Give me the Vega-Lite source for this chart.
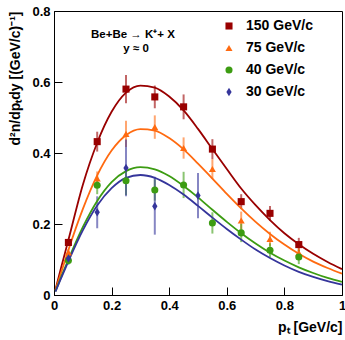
{
  "$schema": "https://vega.github.io/schema/vega-lite/v6.json",
  "width": 288,
  "height": 284,
  "autosize": {"type": "none"},
  "padding": {"left": 54, "top": 11, "right": 3, "bottom": 45},
  "background": "white",
  "config": {
    "view": {"stroke": "#000", "strokeWidth": 1},
    "font": "Liberation Sans",
    "axis": {"grid": false, "domainColor": "#000", "domainWidth": 1, "tickColor": "#000", "tickWidth": 1, "labelFont": "Liberation Sans", "labelFontWeight": "bold", "labelFontSize": 13, "labelColor": "#000", "titleFont": "Liberation Sans", "titleFontWeight": "bold", "titleFontSize": 14, "titleColor": "#000"},
    "legend": {"orient": "none", "legendX": 168, "legendY": 8, "padding": 0, "rowPadding": 8, "labelOffset": 10, "labelFont": "Liberation Sans", "labelFontSize": 14, "labelFontWeight": "bold", "labelColor": "#000", "symbolSize": 50, "symbolStrokeWidth": 0, "symbolOpacity": 1}
  },
  "datasets": {
    "pts": [
      {"E": "150 GeV/c", "x": 0.05, "y": 0.148, "lo": 0.138, "hi": 0.158},
      {"E": "150 GeV/c", "x": 0.15, "y": 0.432, "lo": 0.404, "hi": 0.460},
      {"E": "150 GeV/c", "x": 0.25, "y": 0.580, "lo": 0.540, "hi": 0.620},
      {"E": "150 GeV/c", "x": 0.35, "y": 0.558, "lo": 0.526, "hi": 0.590},
      {"E": "150 GeV/c", "x": 0.45, "y": 0.530, "lo": 0.495, "hi": 0.565},
      {"E": "150 GeV/c", "x": 0.55, "y": 0.411, "lo": 0.383, "hi": 0.439},
      {"E": "150 GeV/c", "x": 0.65, "y": 0.263, "lo": 0.242, "hi": 0.284},
      {"E": "150 GeV/c", "x": 0.75, "y": 0.230, "lo": 0.209, "hi": 0.251},
      {"E": "150 GeV/c", "x": 0.85, "y": 0.142, "lo": 0.123, "hi": 0.161},
      {"E": "75 GeV/c", "x": 0.05, "y": 0.120, "lo": 0.110, "hi": 0.130},
      {"E": "75 GeV/c", "x": 0.15, "y": 0.328, "lo": 0.308, "hi": 0.348},
      {"E": "75 GeV/c", "x": 0.25, "y": 0.454, "lo": 0.417, "hi": 0.491},
      {"E": "75 GeV/c", "x": 0.35, "y": 0.473, "lo": 0.440, "hi": 0.506},
      {"E": "75 GeV/c", "x": 0.45, "y": 0.414, "lo": 0.384, "hi": 0.444},
      {"E": "75 GeV/c", "x": 0.55, "y": 0.355, "lo": 0.327, "hi": 0.383},
      {"E": "75 GeV/c", "x": 0.65, "y": 0.210, "lo": 0.185, "hi": 0.235},
      {"E": "75 GeV/c", "x": 0.75, "y": 0.158, "lo": 0.138, "hi": 0.178},
      {"E": "75 GeV/c", "x": 0.85, "y": 0.119, "lo": 0.101, "hi": 0.137},
      {"E": "40 GeV/c", "x": 0.05, "y": 0.097, "lo": 0.085, "hi": 0.109},
      {"E": "40 GeV/c", "x": 0.15, "y": 0.309, "lo": 0.284, "hi": 0.334},
      {"E": "40 GeV/c", "x": 0.25, "y": 0.322, "lo": 0.282, "hi": 0.362},
      {"E": "40 GeV/c", "x": 0.35, "y": 0.296, "lo": 0.266, "hi": 0.326},
      {"E": "40 GeV/c", "x": 0.45, "y": 0.310, "lo": 0.273, "hi": 0.347},
      {"E": "40 GeV/c", "x": 0.55, "y": 0.203, "lo": 0.173, "hi": 0.233},
      {"E": "40 GeV/c", "x": 0.65, "y": 0.175, "lo": 0.149, "hi": 0.201},
      {"E": "40 GeV/c", "x": 0.75, "y": 0.126, "lo": 0.106, "hi": 0.146},
      {"E": "40 GeV/c", "x": 0.85, "y": 0.107, "lo": 0.087, "hi": 0.127},
      {"E": "30 GeV/c", "x": 0.05, "y": 0.103, "lo": 0.088, "hi": 0.118},
      {"E": "30 GeV/c", "x": 0.15, "y": 0.233, "lo": 0.188, "hi": 0.278},
      {"E": "30 GeV/c", "x": 0.25, "y": 0.358, "lo": 0.278, "hi": 0.438},
      {"E": "30 GeV/c", "x": 0.35, "y": 0.250, "lo": 0.170, "hi": 0.333},
      {"E": "30 GeV/c", "x": 0.50, "y": 0.280, "lo": 0.216, "hi": 0.344}
    ],
    "fit": [
      {"E": "150 GeV/c", "x": 0.005, "y": 0.015}, {"E": "150 GeV/c", "x": 0.025, "y": 0.078}, {"E": "150 GeV/c", "x": 0.05, "y": 0.155}, {"E": "150 GeV/c", "x": 0.1, "y": 0.31}, {"E": "150 GeV/c", "x": 0.15, "y": 0.429}, {"E": "150 GeV/c", "x": 0.2, "y": 0.516}, {"E": "150 GeV/c", "x": 0.25, "y": 0.570}, {"E": "150 GeV/c", "x": 0.3, "y": 0.590}, {"E": "150 GeV/c", "x": 0.35, "y": 0.584}, {"E": "150 GeV/c", "x": 0.4, "y": 0.559}, {"E": "150 GeV/c", "x": 0.45, "y": 0.520}, {"E": "150 GeV/c", "x": 0.5, "y": 0.468}, {"E": "150 GeV/c", "x": 0.55, "y": 0.411}, {"E": "150 GeV/c", "x": 0.6, "y": 0.355}, {"E": "150 GeV/c", "x": 0.65, "y": 0.300}, {"E": "150 GeV/c", "x": 0.7, "y": 0.253}, {"E": "150 GeV/c", "x": 0.75, "y": 0.211}, {"E": "150 GeV/c", "x": 0.8, "y": 0.174}, {"E": "150 GeV/c", "x": 0.85, "y": 0.143}, {"E": "150 GeV/c", "x": 0.9, "y": 0.116}, {"E": "150 GeV/c", "x": 0.95, "y": 0.093}, {"E": "150 GeV/c", "x": 1.0, "y": 0.073},
      {"E": "75 GeV/c", "x": 0.005, "y": 0.013}, {"E": "75 GeV/c", "x": 0.025, "y": 0.064}, {"E": "75 GeV/c", "x": 0.05, "y": 0.127}, {"E": "75 GeV/c", "x": 0.1, "y": 0.242}, {"E": "75 GeV/c", "x": 0.15, "y": 0.337}, {"E": "75 GeV/c", "x": 0.2, "y": 0.407}, {"E": "75 GeV/c", "x": 0.25, "y": 0.450}, {"E": "75 GeV/c", "x": 0.3, "y": 0.467}, {"E": "75 GeV/c", "x": 0.35, "y": 0.463}, {"E": "75 GeV/c", "x": 0.4, "y": 0.442}, {"E": "75 GeV/c", "x": 0.45, "y": 0.410}, {"E": "75 GeV/c", "x": 0.5, "y": 0.370}, {"E": "75 GeV/c", "x": 0.55, "y": 0.328}, {"E": "75 GeV/c", "x": 0.6, "y": 0.285}, {"E": "75 GeV/c", "x": 0.65, "y": 0.244}, {"E": "75 GeV/c", "x": 0.7, "y": 0.206}, {"E": "75 GeV/c", "x": 0.75, "y": 0.172}, {"E": "75 GeV/c", "x": 0.8, "y": 0.142}, {"E": "75 GeV/c", "x": 0.85, "y": 0.116}, {"E": "75 GeV/c", "x": 0.9, "y": 0.094}, {"E": "75 GeV/c", "x": 0.95, "y": 0.076}, {"E": "75 GeV/c", "x": 1.0, "y": 0.060},
      {"E": "40 GeV/c", "x": 0.005, "y": 0.010}, {"E": "40 GeV/c", "x": 0.025, "y": 0.051}, {"E": "40 GeV/c", "x": 0.05, "y": 0.100}, {"E": "40 GeV/c", "x": 0.1, "y": 0.191}, {"E": "40 GeV/c", "x": 0.15, "y": 0.265}, {"E": "40 GeV/c", "x": 0.2, "y": 0.318}, {"E": "40 GeV/c", "x": 0.25, "y": 0.349}, {"E": "40 GeV/c", "x": 0.3, "y": 0.360}, {"E": "40 GeV/c", "x": 0.35, "y": 0.354}, {"E": "40 GeV/c", "x": 0.4, "y": 0.335}, {"E": "40 GeV/c", "x": 0.45, "y": 0.307}, {"E": "40 GeV/c", "x": 0.5, "y": 0.275}, {"E": "40 GeV/c", "x": 0.55, "y": 0.240}, {"E": "40 GeV/c", "x": 0.6, "y": 0.206}, {"E": "40 GeV/c", "x": 0.65, "y": 0.174}, {"E": "40 GeV/c", "x": 0.7, "y": 0.145}, {"E": "40 GeV/c", "x": 0.75, "y": 0.119}, {"E": "40 GeV/c", "x": 0.8, "y": 0.097}, {"E": "40 GeV/c", "x": 0.85, "y": 0.078}, {"E": "40 GeV/c", "x": 0.9, "y": 0.062}, {"E": "40 GeV/c", "x": 0.95, "y": 0.048}, {"E": "40 GeV/c", "x": 1.0, "y": 0.037},
      {"E": "30 GeV/c", "x": 0.005, "y": 0.0097}, {"E": "30 GeV/c", "x": 0.025, "y": 0.048}, {"E": "30 GeV/c", "x": 0.05, "y": 0.095}, {"E": "30 GeV/c", "x": 0.1, "y": 0.182}, {"E": "30 GeV/c", "x": 0.15, "y": 0.252}, {"E": "30 GeV/c", "x": 0.2, "y": 0.301}, {"E": "30 GeV/c", "x": 0.25, "y": 0.330}, {"E": "30 GeV/c", "x": 0.3, "y": 0.338}, {"E": "30 GeV/c", "x": 0.35, "y": 0.330}, {"E": "30 GeV/c", "x": 0.4, "y": 0.310}, {"E": "30 GeV/c", "x": 0.45, "y": 0.283}, {"E": "30 GeV/c", "x": 0.5, "y": 0.251}, {"E": "30 GeV/c", "x": 0.55, "y": 0.218}, {"E": "30 GeV/c", "x": 0.6, "y": 0.186}, {"E": "30 GeV/c", "x": 0.65, "y": 0.156}, {"E": "30 GeV/c", "x": 0.7, "y": 0.128}, {"E": "30 GeV/c", "x": 0.75, "y": 0.104}, {"E": "30 GeV/c", "x": 0.8, "y": 0.083}, {"E": "30 GeV/c", "x": 0.85, "y": 0.065}, {"E": "30 GeV/c", "x": 0.9, "y": 0.051}, {"E": "30 GeV/c", "x": 0.95, "y": 0.039}, {"E": "30 GeV/c", "x": 1.0, "y": 0.029}
    ],
    "notes": [
      {"x": 0.274, "y": 0.731, "t": "Be+Be → K⁺+ X"},
      {"x": 0.285, "y": 0.692, "t": "y ≈ 0"}
    ]
  },
  "layer": [
    {
      "data": {"name": "pts"},
      "mark": {"type": "rule", "strokeWidth": 2, "opacity": 0.6},
      "encoding": {
        "x": {"field": "x", "type": "quantitative", "scale": {"domain": [0, 1], "nice": false, "zero": false},
          "axis": {"title": "pₜ [GeV/c]", "values": [0, 0.05, 0.1, 0.15, 0.2, 0.25, 0.3, 0.35, 0.4, 0.45, 0.5, 0.55, 0.6, 0.65, 0.7, 0.75, 0.8, 0.85, 0.9, 0.95, 1],
            "labelExpr": "abs(datum.value*5 - round(datum.value*5)) < 0.001 ? (datum.value == 0 ? '0' : datum.value == 1 ? '1' : format(datum.value, '.1f')) : ''",
            "labelOverlap": false, "labelFlush": false, "labelBound": false,
            "tickSize": {"condition": {"test": "abs(datum.value*5 - round(datum.value*5)) < 0.001", "value": -8}, "value": -4},
            "labelPadding": 12, "titleAnchor": "end", "titleAlign": "right", "titleBaseline": "middle", "titleX": 288, "titleY": 32}},
        "y": {"field": "lo", "type": "quantitative", "scale": {"domain": [0, 0.8], "nice": false, "zero": false},
          "axis": {"title": "d²n/dpₜdy [(GeV/c)⁻¹]", "values": [0, 0.05, 0.1, 0.15, 0.2, 0.25, 0.3, 0.35, 0.4, 0.45, 0.5, 0.55, 0.6, 0.65, 0.7, 0.75, 0.8],
            "labelExpr": "abs(datum.value*5 - round(datum.value*5)) < 0.001 ? (datum.value == 0 ? '0' : format(datum.value, '.1f')) : ''",
            "labelOverlap": false, "labelFlush": false, "labelBound": false,
            "tickSize": {"condition": {"test": "abs(datum.value*5 - round(datum.value*5)) < 0.001", "value": -8}, "value": -4},
            "labelPadding": 12, "titleAnchor": "end", "titleAlign": "right", "titleBaseline": "middle", "titleAngle": -90, "titleX": -39, "titleY": 0}},
        "y2": {"field": "hi"},
        "color": {"field": "E", "type": "nominal", "title": null,
          "scale": {"domain": ["150 GeV/c", "75 GeV/c", "40 GeV/c", "30 GeV/c"], "range": ["#990000", "#ff6a10", "#3c9c12", "#35359b"]}}
      }
    },
    {
      "data": {"name": "fit"},
      "mark": {"type": "line", "strokeWidth": 1.8, "interpolate": "monotone"},
      "encoding": {
        "x": {"field": "x", "type": "quantitative"},
        "y": {"field": "y", "type": "quantitative"},
        "color": {"field": "E", "type": "nominal", "title": null}
      }
    },
    {
      "data": {"name": "pts"},
      "mark": {"type": "point", "filled": true, "opacity": 1, "size": 50},
      "encoding": {
        "x": {"field": "x", "type": "quantitative"},
        "y": {"field": "y", "type": "quantitative"},
        "color": {"field": "E", "type": "nominal", "title": null},
        "shape": {"field": "E", "type": "nominal", "title": null,
          "scale": {"domain": ["150 GeV/c", "75 GeV/c", "40 GeV/c", "30 GeV/c"], "range": ["square", "triangle-up", "circle", "M0,-1.2L0.75,0L0,1.2L-0.75,0Z"]}}
      }
    },
    {
      "data": {"name": "notes"},
      "mark": {"type": "text", "font": "Liberation Sans", "fontWeight": "bold", "fontSize": 11.5, "align": "center", "baseline": "middle", "color": "#000"},
      "encoding": {
        "x": {"field": "x", "type": "quantitative"},
        "y": {"field": "y", "type": "quantitative"},
        "text": {"field": "t"}
      }
    }
  ]
}
